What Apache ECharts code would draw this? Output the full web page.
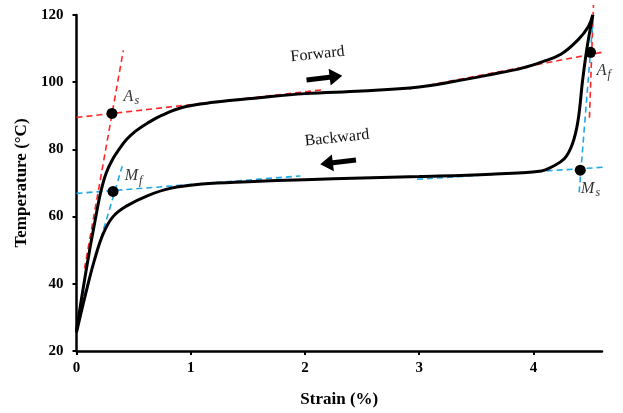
<!DOCTYPE html>
<html>
<head>
<meta charset="utf-8">
<script src="https://cdn.jsdelivr.net/npm/echarts@6/dist/echarts.min.js"></script>
<style>
  html, body { margin: 0; padding: 0; background: #fff; }
  #chart { width: 623px; height: 413px; }
</style>
</head>
<body>
<div id="chart"></div>
<script>
// heating (forward) branch
const forwardStrain = [0, 0.06, 0.12, 0.16, 0.21, 0.26, 0.32, 0.38, 0.44, 0.52, 0.62, 0.75, 0.94, 1.2, 1.6, 2.0, 2.5, 3.0, 3.3, 3.63, 3.9, 4.07, 4.24, 4.39, 4.48, 4.52];
const forwardTemp = [26, 39, 51, 58.3, 67, 73, 77.3, 80.4, 83, 85.5, 87.8, 90.2, 92.6, 94, 95.4, 96.6, 97.4, 98.6, 100.2, 102.3, 104.2, 106, 108.3, 112.6, 116.5, 120];
// cooling (backward) branch
const backwardStrain = [4.52, 4.47, 4.43, 4.39, 4.34, 4.27, 4.15, 4.07, 3.63, 3.0, 2.5, 2.0, 1.5, 1.1, 0.82, 0.62, 0.44, 0.32, 0.235, 0.16, 0.08, 0];
const backwardTemp = [120, 110.5, 100.5, 88.5, 81.5, 77.2, 74.6, 73.6, 72.6, 71.9, 71.5, 71.0, 70.4, 69.7, 68.4, 66.2, 63.2, 60, 55, 47.4, 37, 25.5];

// tangent construction lines [[x1, y1], [x2, y2]]
const redLines = [
  [[0, 89.5], [2.17, 97.8]],
  [[0.07, 44.5], [0.41, 109.5]],
  [[2.91, 98], [4.80, 110.2]],
  [[4.49, 89.4], [4.525, 123]]
];
const blueLines = [
  [[0, 66.9], [1.96, 72.1]],
  [[0.016, 30.6], [0.40, 75]],
  [[2.98, 71.1], [4.66, 74.8]],
  [[4.40, 67.2], [4.525, 120]]
];

// transformation temperatures
const pointNames = ['As', 'Mf', 'Af', 'Ms'];
const pointStrain = [0.31, 0.32, 4.50, 4.41];
const pointTemp = [90.7, 67.5, 108.9, 73.8];
const labelStrain = [0.48, 0.50, 4.615, 4.50];
const labelTemp = [95.7, 72.1, 103.5, 68.4];
const labelText = ['{a|A}{s|s}', '{a|M}{s|f}', '{a|A}{s|f}', '{a|M}{s|s}'];

const dirText = ['Forward', 'Backward'];
const dirTextPos = [[2.11, 108.3], [2.28, 83.4]];
const dirArrowPos = [[2.17, 101.3], [2.29, 76.2]];

const serif = '"Liberation Serif", "DejaVu Serif", serif';
const chart = echarts.init(document.getElementById('chart'));

function zip(xs, ys) {
  return xs.map((x, i) => [x, ys[i]]);
}

function dashSeries(lines, color) {
  return lines.map((pts) => ({
    type: 'line',
    data: pts,
    clip: false,
    symbol: 'none',
    silent: true,
    z: 1,
    lineStyle: { color: color, width: 1.6, type: [6, 4] }
  }));
}

const rightArrow = 'path://M0,7 L22,7 L22,0 L34,10 L22,20 L22,13 L0,13 Z';
const leftArrow = 'path://M34,7 L12,7 L12,0 L0,10 L12,20 L12,13 L34,13 Z';

chart.setOption({
  backgroundColor: '#fff',
  animation: false,
  grid: { left: 76.5, right: 21, top: 15, bottom: 60.5 },
  xAxis: {
    type: 'value',
    min: 0,
    max: 4.6,
    interval: 1,
    name: 'Strain (%)',
    nameLocation: 'middle',
    nameGap: 40,
    nameTextStyle: { fontFamily: serif, fontWeight: 'bold', fontSize: 17, color: '#000' },
    splitLine: { show: false },
    axisLine: { lineStyle: { color: '#000', width: 2.5 } },
    axisTick: { show: true, inside: false, length: 4, customValues: [0, 1, 2, 3, 4], lineStyle: { color: '#000', width: 2 } },
    axisLabel: { customValues: [0, 1, 2, 3, 4], margin: 10, fontFamily: serif, fontWeight: 'bold', fontSize: 15, color: '#000' }
  },
  yAxis: {
    type: 'value',
    min: 20,
    max: 120,
    interval: 20,
    name: 'Temperature (\u00B0C)',
    nameLocation: 'middle',
    nameGap: 43,
    nameTextStyle: { fontFamily: serif, fontWeight: 'bold', fontSize: 17, color: '#000' },
    splitLine: { show: false },
    axisLine: { show: true, lineStyle: { color: '#000', width: 2.5 } },
    axisTick: { show: true, inside: false, length: 4, lineStyle: { color: '#000', width: 2 } },
    axisLabel: { margin: 13, fontFamily: serif, fontWeight: 'bold', fontSize: 15, color: '#000' }
  },
  series: [
    ...dashSeries(redLines, '#ff2626'),
    ...dashSeries(blueLines, '#1fa9e8'),
    {
      name: 'Forward',
      type: 'line',
      data: zip(forwardStrain, forwardTemp),
      smooth: 0.4,
      symbol: 'none',
      z: 3,
      lineStyle: { color: '#000', width: 3 }
    },
    {
      name: 'Backward',
      type: 'line',
      data: zip(backwardStrain, backwardTemp),
      smooth: 0.4,
      symbol: 'none',
      z: 3,
      lineStyle: { color: '#000', width: 3 }
    },
    {
      type: 'scatter',
      data: zip(pointStrain, pointTemp),
      symbol: 'circle',
      symbolSize: 11,
      z: 5,
      itemStyle: { color: '#000', opacity: 1 }
    },
    {
      type: 'scatter',
      clip: false,
      data: zip(labelStrain, labelTemp).map((p, i) => ({ value: p, name: pointNames[i], label: { formatter: labelText[i] } })),
      symbolSize: 0,
      z: 5,
      itemStyle: { opacity: 1 },
      label: {
        show: true,
        position: 'inside',
        color: '#333',
        rich: {
          a: { fontFamily: serif, fontStyle: 'italic', fontSize: 16, color: '#333' },
          s: { fontFamily: serif, fontStyle: 'italic', fontSize: 12, color: '#333', padding: [9, 0, 0, 1] }
        }
      }
    },
    {
      type: 'scatter',
      data: dirTextPos.map((p, i) => ({ value: p, label: { formatter: dirText[i] } })),
      symbolSize: 0,
      z: 5,
      itemStyle: { opacity: 1 },
      label: { show: true, position: 'inside', rotate: 6, fontFamily: serif, fontSize: 16, color: '#111' }
    },
    {
      type: 'scatter',
      data: [
        { value: dirArrowPos[0], symbol: rightArrow },
        { value: dirArrowPos[1], symbol: leftArrow }
      ],
      symbolSize: [36, 17],
      symbolRotate: 7,
      z: 5,
      itemStyle: { color: '#000', opacity: 1 }
    }
  ]
});
</script>
</body>
</html>
